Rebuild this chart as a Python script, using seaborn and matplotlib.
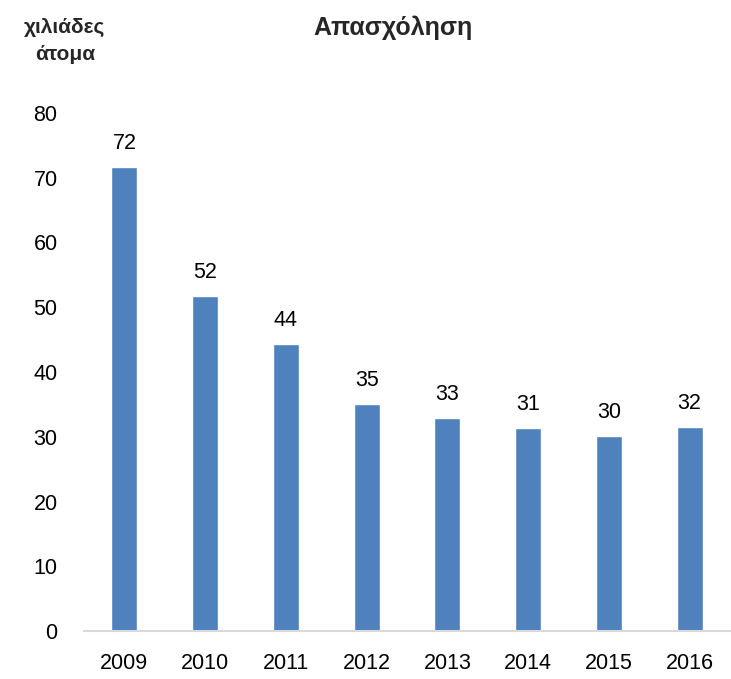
import matplotlib
matplotlib.use("Agg")
import matplotlib.pyplot as plt
import pandas as pd
import seaborn as sns

# Data
years = ["2009", "2010", "2011", "2012", "2013", "2014", "2015", "2016"]
employment = [71.7, 51.7, 44.3, 35.1, 32.9, 31.4, 30.1, 31.5]
labels = ["72", "52", "44", "35", "33", "31", "30", "32"]
y_ticks = [0, 10, 20, 30, 40, 50, 60, 70, 80]

df = pd.DataFrame({"year": years, "value": employment})

sns.set_theme(style="white")
plt.rcParams["font.family"] = ["Liberation Sans", "DejaVu Sans"]

fig = plt.figure(figsize=(7.31, 6.79), dpi=100)
ax = fig.add_axes([84 / 731, 1 - 631 / 679, (730 - 84) / 731, (631 - 113) / 679])

sns.barplot(data=df, x="year", y="value", color="#4f81bd", saturation=1,
            width=0.32, ax=ax)

ax.set_xlim(-0.5, 7.5)
ax.set_ylim(0, 80)
ax.set_yticks(y_ticks)
ax.set_xlabel("")
ax.set_ylabel("")
ax.tick_params(axis="both", length=0, labelsize=15.5, colors="black")
ax.tick_params(axis="x", pad=16)
ax.tick_params(axis="y", pad=19)

for side in ["top", "right", "left"]:
    ax.spines[side].set_visible(False)
ax.spines["bottom"].set_color("#d9d9d9")
ax.spines["bottom"].set_linewidth(1.5)

# Value labels
for i, (v, lab) in enumerate(zip(employment, labels)):
    ax.text(i, v + 2.0, lab, ha="center", va="bottom", fontsize=15.5, color="black")

fig.text(393 / 731, 1 - 28 / 679, "Απασχόληση", ha="center", va="center",
         fontsize=18, fontweight="bold")
fig.text(65 / 731, 1 - 41 / 679, "χιλιάδες\nάτομα", ha="center", va="center",
         fontsize=15, fontweight="bold", linespacing=1.55)

fig.savefig("out.png", dpi=100)
